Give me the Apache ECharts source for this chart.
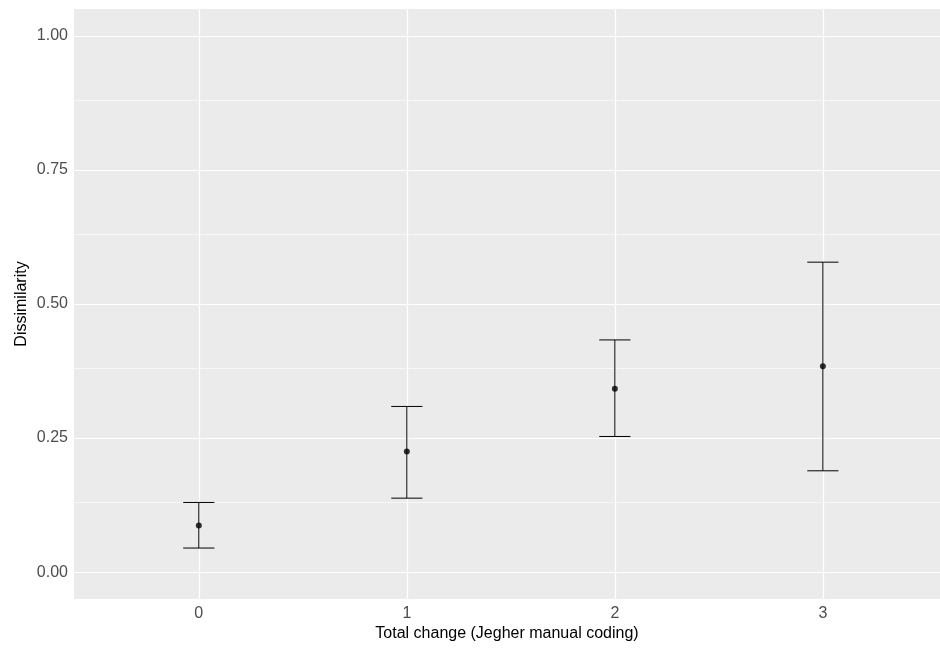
<!DOCTYPE html>
<html>
<head>
    <meta charset="utf-8">
    <title>Dissimilarity</title>
    <script src="https://cdn.jsdelivr.net/npm/echarts@6/dist/echarts.min.js"></script>
    <style>
        body { margin: 0; background: #fff; }
    </style>
</head>
<body>
    <div id="main" style="width: 940px;height:648px;"></div>
    <script type="text/javascript">
        // data
        var categories = [0, 1, 2, 3];
        var means = [0.087, 0.225, 0.342, 0.384];
        var lower = [0.045, 0.138, 0.253, 0.189];
        var upper = [0.130, 0.309, 0.433, 0.578];
        var yTicks = [0, 0.25, 0.5, 0.75, 1];
        var yMinor = [0.125, 0.375, 0.625, 0.875];

        var myChart = echarts.init(document.getElementById('main'));

        var pointData = [];
        var barData = [];
        for (var i = 0; i < categories.length; i++) {
            pointData.push([categories[i], means[i]]);
            barData.push([categories[i], lower[i], upper[i]]);
        }

        var gridLines = [];
        yTicks.forEach(function (v) {
            gridLines.push({ yAxis: v, lineStyle: { width: 1.2 } });
        });
        yMinor.forEach(function (v) {
            gridLines.push({ yAxis: v, lineStyle: { width: 0.6 } });
        });
        categories.forEach(function (c) {
            gridLines.push({ xAxis: c, lineStyle: { width: 1.2 } });
        });

        var capHalf = 0.075;

        var option = {
            animation: false,
            textStyle: { fontFamily: 'Liberation Sans, Arial, sans-serif' },
            grid: {
                left: 74, top: 9, right: 0, bottom: 49,
                show: true, backgroundColor: '#EBEBEB', borderWidth: 0
            },
            xAxis: {
                type: 'value',
                // panel runs past the right edge of the picture
                min: -0.6, max: 3.563,
                name: 'Total change (Jegher manual coding)',
                nameLocation: 'middle',
                nameGap: 27,
                nameMoveOverlap: false,
                nameTextStyle: { color: '#000', fontSize: 16 },
                axisLine: { show: false },
                axisTick: { show: true, length: 4, customValues: categories, lineStyle: { color: '#333', width: 1 } },
                axisLabel: { customValues: categories, color: '#4D4D4D', fontSize: 16, margin: 7 },
                splitLine: { show: false }
            },
            yAxis: {
                type: 'value',
                min: -0.05, max: 1.05,
                name: 'Dissimilarity',
                nameLocation: 'middle',
                nameGap: 44,
                nameMoveOverlap: false,
                nameTextStyle: { color: '#000', fontSize: 16 },
                axisLine: { show: false },
                axisTick: { show: true, length: 4, customValues: yTicks, lineStyle: { color: '#333', width: 1 } },
                axisLabel: {
                    customValues: yTicks, color: '#4D4D4D', fontSize: 16, margin: 6,
                    formatter: function (v) { return v.toFixed(2); }
                },
                splitLine: { show: false }
            },
            series: [
                {
                    type: 'line',
                    data: [],
                    z: 1,
                    silent: true,
                    markLine: {
                        z: 1,
                        silent: true,
                        animation: false,
                        symbol: 'none',
                        label: { show: false },
                        lineStyle: { color: '#FFFFFF', type: 'solid' },
                        data: gridLines
                    }
                },
                {
                    type: 'custom',
                    z: 6,
                    data: barData,
                    renderItem: function (params, api) {
                        var x = api.value(0);
                        var lo = api.value(1);
                        var hi = api.value(2);
                        var pLo = api.coord([x, lo]);
                        var pHi = api.coord([x, hi]);
                        var style = { stroke: '#000', lineWidth: 1 };
                        var hiL = api.coord([x - capHalf, hi]);
                        var hiR = api.coord([x + capHalf, hi]);
                        var loL = api.coord([x - capHalf, lo]);
                        var loR = api.coord([x + capHalf, lo]);
                        return {
                            type: 'group',
                            children: [
                                { type: 'line', shape: { x1: pLo[0], y1: pLo[1], x2: pHi[0], y2: pHi[1] }, style: style },
                                { type: 'line', shape: { x1: hiL[0], y1: hiL[1], x2: hiR[0], y2: hiR[1] }, style: style },
                                { type: 'line', shape: { x1: loL[0], y1: loL[1], x2: loR[0], y2: loR[1] }, style: style }
                            ]
                        };
                    }
                },
                {
                    type: 'scatter',
                    z: 7,
                    data: pointData,
                    symbol: 'circle',
                    symbolSize: 6,
                    itemStyle: { color: '#000' }
                }
            ]
        };

        myChart.setOption(option);
    </script>
</body>
</html>
